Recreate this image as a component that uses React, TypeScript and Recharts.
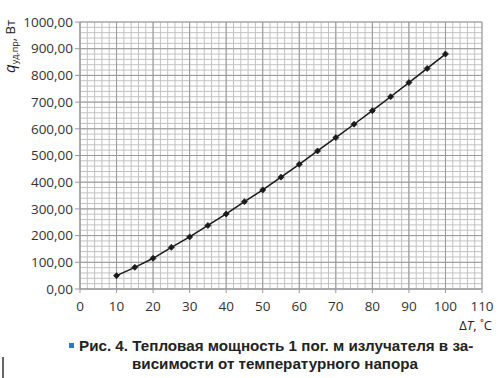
import React from 'react';
import {
  LineChart,
  Line,
  XAxis,
  YAxis,
  CartesianGrid,
} from 'recharts';

// ΔT, °C
const deltaT = [10, 15, 20, 25, 30, 35, 40, 45, 50, 55, 60, 65, 70, 75, 80, 85, 90, 95, 100];
// q уд.пр, Вт
const qPower = [50, 81, 115, 156, 195, 238, 281, 327, 371, 419, 467, 517, 567, 617, 668, 720, 773, 826, 880];

const xTicks = [0, 10, 20, 30, 40, 50, 60, 70, 80, 90, 100, 110];
const yTicks = [0, 100, 200, 300, 400, 500, 600, 700, 800, 900, 1000];

// мелкая сетка: шаг 2 по X и 20 по Y
const xMinor = Array.from({ length: 56 }, (_, i) => i * 2);
const yMinor = Array.from({ length: 51 }, (_, i) => i * 20);

const data = deltaT.map((t, i) => ({ t, q: qPower[i] }));

const FONT = '"Open Sans", "DejaVu Sans", sans-serif';
const CAPTION_FONT = '"Liberation Sans", Arial, sans-serif';

const Diamond = (props: any) => {
  const { cx, cy, index } = props;
  if (cx == null || cy == null) return <g key={index} />;
  const r = 3;
  return (
    <path
      key={index}
      d={`M${cx},${cy - r} L${cx + r},${cy} L${cx},${cy + r} L${cx - r},${cy} Z`}
      fill="#1a1a1a"
      stroke="#1a1a1a"
      strokeWidth={0.8}
    />
  );
};

const YLabel = () => (
  <text
    transform="translate(15,73) rotate(-90)"
    fontFamily={FONT}
    fill="#222"
    textAnchor="start"
  >
    <tspan fontStyle="italic" fontSize={15}>q</tspan>
    <tspan fontSize={9} dy={3}>уд.пр</tspan>
    <tspan fontSize={13} dy={-3}>, Вт</tspan>
  </text>
);

const XLabel = () => (
  <text x={492} y={330} fontFamily={FONT} fontSize={13} fill="#222" textAnchor="end">
    Δ<tspan fontStyle="italic">T</tspan>, ˚C
  </text>
);

const App: React.FC = () => {
  return (
    <div
      style={{
        position: 'absolute',
        left: 0,
        top: 0,
        width: 500,
        height: 378,
        background: '#fff',
        overflow: 'hidden',
      }}
    >
      <LineChart
        width={500}
        height={378}
        data={data}
        margin={{ top: 22, right: 18, left: 0, bottom: 59 }}
      >
        {/* мелкая сетка */}
        <CartesianGrid
          stroke="#c2c2c2"
          strokeWidth={1}
          horizontalValues={yMinor}
          verticalValues={xMinor}
        />
        {/* основная сетка */}
        <CartesianGrid
          stroke="#999"
          strokeWidth={1}
          horizontalValues={yTicks}
          verticalValues={xTicks}
        />
        <XAxis
          dataKey="t"
          type="number"
          domain={[0, 110]}
          ticks={xTicks}
          interval={0}
          height={30}
          tickSize={4}
          tickMargin={8}
          stroke="#999"
          tick={{ fontSize: 13.5, fill: '#333', fontFamily: FONT }}
          label={{ content: () => <XLabel /> }}
        />
        <YAxis
          type="number"
          domain={[0, 1000]}
          ticks={yTicks}
          interval={0}
          width={80}
          tickSize={5}
          tickMargin={2}
          stroke="#999"
          tickFormatter={(v: number) => v.toFixed(2).replace('.', ',')}
          tick={{ fontSize: 13.5, fill: '#333', fontFamily: FONT }}
          label={{ content: () => <YLabel /> }}
        />
        <Line
          type="linear"
          dataKey="q"
          stroke="#1a1a1a"
          strokeWidth={1.5}
          dot={Diamond}
          activeDot={false}
          isAnimationActive={false}
        />
      </LineChart>

      <div
        style={{
          position: 'absolute',
          left: 69,
          top: 343,
          width: 5,
          height: 5,
          background: '#2b7bc4',
        }}
      />
      <div
        style={{
          position: 'absolute',
          left: 79,
          top: 337,
          whiteSpace: 'nowrap',
          fontFamily: CAPTION_FONT,
          fontWeight: 'bold',
          fontSize: 15.2,
          lineHeight: '18px',
          color: '#222',
        }}
      >
        Рис. 4. Тепловая мощность 1 пог. м излучателя в за-
      </div>
      <div
        style={{
          position: 'absolute',
          left: 132,
          top: 355,
          whiteSpace: 'nowrap',
          fontFamily: CAPTION_FONT,
          fontWeight: 'bold',
          fontSize: 15.2,
          lineHeight: '18px',
          color: '#222',
        }}
      >
        висимости от температурного напора
      </div>
      <div
        style={{
          position: 'absolute',
          left: 2,
          top: 357,
          width: 2,
          height: 21,
          background: '#666',
        }}
      />
    </div>
  );
};

export default App;
